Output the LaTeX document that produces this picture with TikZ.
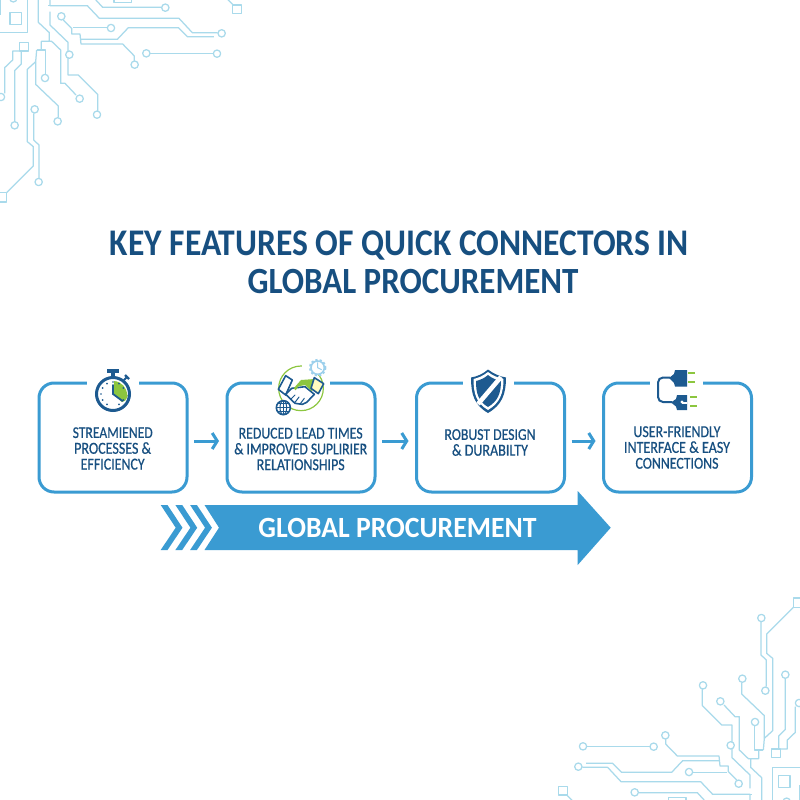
\documentclass[tikz,border=0pt]{standalone}
\usepackage{fontspec}
\usepackage{graphicx}
\usetikzlibrary{arrows.meta,calc}
\setmainfont{Carlito}
\newfontfamily\captionface{Carlito}[FakeBold=0.6]
\definecolor{trace}{HTML}{A9DAEB}
\definecolor{frameblue}{HTML}{3A9BD2}
\definecolor{inkblue}{HTML}{174F80}
\definecolor{iconblue}{HTML}{1D5A90}
\definecolor{leaf}{HTML}{8CC63F}
\definecolor{paleblue}{HTML}{9CD0EC}
% text line fitted to a width in pixels, stretched upward by a fixed factor
\newcommand{\fitw}[2]{\scalebox{1}[\tallness]{\resizebox{#1pt}{!}{#2}}}
\newcommand{\tallness}{1.18}
% One corner of the circuit-board ornament, in units of a third of a pixel
\newcommand{\circuitcorner}{%
  \begin{scope}[scale=1/3]
    \draw[wire] (285,-3) -- (308,22) -- (485,22);
    \draw[wire] (150,-3) -- (150,17) -- (262,17) -- (298,55) -- (537,55) -- (577,98) -- (653,98);
    \draw[wire] (145,17) -- (150,17);
    \draw[wire] (190,60) -- (215,85) -- (215,102) -- (240,102) -- (243,132) -- (368,132) -- (403,168) -- (403,183);
    \draw[wire] (220,83) -- (322,83);
    \draw[wire] (243,118) -- (352,118) -- (385,83) -- (535,83) -- (562,110) -- (642,110);
    \draw[wire] (450,160) -- (640,160);
    \draw[wire] (115,-3) -- (115,67) -- (148,98) -- (148,124) -- (124,124) -- (124,150);
    \draw[wire] (148,124) -- (155,124) -- (182,150) -- (182,250) -- (195,250) -- (228,285);
    \draw[wire] (150,35) -- (150,75) -- (204,127) -- (204,225) -- (235,225) -- (293,283) -- (293,333);
    \draw[wire] (110,150) -- (136,150) -- (136,223);
    \draw[wire] (110,150) -- (107,185) -- (107,253) -- (175,318) -- (175,352);
    \draw[wire] (107,185) -- (82,208) -- (82,425) -- (100,440) -- (100,498) -- (20,578);
    \draw[wire] (101,340) -- (101,420) -- (117,435) -- (117,535);
    \draw[wire] (58,153) -- (38,153) -- (38,180) -- (14,203) -- (14,280);
    \draw[wire] (64,153) -- (64,192) -- (44,212) -- (44,365);
    \draw[wire] (0,97) -- (83,97) -- (83,-3);
    \draw[wire] (0,-3) -- (0,45);
    \draw[wire] (682,-3) -- (700,15);
    \draw[wire] (30,38) rectangle (65,73);
    \draw[wire] (58,127) rectangle (86,153);
    \draw[wire] (-10,578) rectangle (19,606);
    \draw[wire] (698,15) rectangle (725,41);
    \draw[wire] (342,-6) rectangle (395,7);
    \foreach \px/\py in {496/23,665/100,184/49,404/194,333/84,439/160,651/161,208/164,239/296,
                         291/344,135/234,173/364,104/328,116/546,3/291,44/376,40/-5}
      \draw[wire,fill=white] (\px,\py) circle[radius=11];
  \end{scope}}
\tikzset{
  wire/.style={draw=trace,line width=1.25pt,line join=round},
  featurebox/.style={draw=frameblue,line width=3pt,rounded corners=15pt,outer sep=0pt,
    minimum width=148pt,minimum height=109pt,fill=white},
  caption/.style={text=inkblue,align=center,inner sep=0pt,
    font=\captionface\fontsize{12}{15.8}\selectfont},
  flow/.style={draw=frameblue,line width=3pt,shorten <=7pt,shorten >=8pt,
    -{Straight Barb[length=5pt,width=16pt,line width=3pt]}},
  iconline/.style={draw=iconblue,line width=1.6pt,line join=round,line cap=round},
}
\begin{document}
\begin{tikzpicture}[x=1pt,y=-1pt]
  \useasboundingbox (0,0) rectangle (800,800);
  \fill[white] (0,0) rectangle (800,800);

  % circuit ornament in two opposite corners
  \begin{scope}
    \clip (0,0) rectangle (800,800);
    \circuitcorner
    \begin{scope}[rotate around={180:(400,400)}]
      \circuitcorner
    \end{scope}
  \end{scope}

  % heading
  \renewcommand{\tallness}{1.12}
  \node[text=inkblue,inner sep=0pt,font=\bfseries\fontsize{30}{30}\selectfont] (titleA) at (399.5,246)
    {\fitw{579}{KEY FEATURES OF QUICK CONNECTORS IN}};
  \node[text=inkblue,inner sep=0pt,font=\bfseries\fontsize{30}{30}\selectfont] (titleB) at (413,281.5)
    {\fitw{331}{GLOBAL PROCUREMENT}};

  % feature boxes
  \node[featurebox] (box1) at (113,437.5) {};
  \node[featurebox] (box2) at (301,437.5) {};
  \node[featurebox] (box3) at (490.5,437.5) {};
  \node[featurebox] (box4) at (677.5,437.5) {};

  % openings in the top edges for the icons
  \fill[white] (87,378) rectangle (139,388);
  \fill[white] (272,378) rectangle (330,388);
  \fill[white] (463,378) rectangle (514,388);
  \fill[white] (650,378) rectangle (703,388);

  % connectors between boxes
  \draw[flow] ([yshift=-3.5pt]box1.east) -- ([yshift=-3.5pt]box2.west);
  \draw[flow] ([yshift=-3.5pt]box2.east) -- ([yshift=-3.5pt]box3.west);
  \draw[flow] ([yshift=-3.5pt]box3.east) -- ([yshift=-3.5pt]box4.west);

  % box captions
  \renewcommand{\tallness}{1.2}
  \node[caption] (cap1) at (112.7,448.5) {\fitw{80}{STREAMIENED}\\\fitw{77}{PROCESSES \&}\\\fitw{64}{EFFICIENCY}};
  \node[caption] (cap2) at (300.7,449) {\fitw{124}{REDUCED LEAD TIMES}\\\fitw{133}{\& IMPROVED SUPLIRIER}\\\fitw{88}{RELATIONSHIPS}};
  \node[caption] (cap3) at (490,442.5) {\fitw{91}{ROBUST DESIGN}\\\fitw{76}{\& DURABILTY}};
  \node[caption] (cap4) at (677,447.5) {\fitw{87}{USER-FRIENDLY}\\\fitw{106}{INTERFACE \& EASY}\\\fitw{83}{CONNECTIONS}};

  % banner arrow with leading chevrons
  \fill[frameblue] (204.5,505) -- (577.7,505) -- (577.7,491) -- (610.7,527.7) -- (577.7,565)
    -- (577.7,550) -- (204.5,550) -- (219,527.7) -- cycle;
  \foreach \dx in {0,14.7,29.4}
    \fill[frameblue] ([xshift=\dx pt]160.7,505) -- ([xshift=\dx pt]167.5,505) -- ([xshift=\dx pt]182.5,527.7)
      -- ([xshift=\dx pt]167.5,550) -- ([xshift=\dx pt]160.7,550) -- ([xshift=\dx pt]175.7,527.7) -- cycle;
  \renewcommand{\tallness}{1.06}
  \node[text=white,inner sep=0pt,font=\bfseries\fontsize{26}{26}\selectfont] (banner) at (397.5,528)
    {\fitw{278}{GLOBAL PROCUREMENT}};

  % stopwatch
  \begin{scope}[shift={(113,394)}]
    \fill[leaf] (1,-13) arc[start angle=-86,end angle=0,radius=14] -- (15,1) .. controls (13,7) and (11,8) .. (9,8) -- (1,0) -- cycle;
    \draw[draw=iconblue,line width=3pt] (0,0) circle[radius=16.5];
    \fill[iconblue] (-6,-25) rectangle (6,-21);
    \fill[iconblue] (-2,-21) rectangle (2,-17);
    \draw[draw=iconblue,line width=2pt] (11,-14) -- (14,-17);
    \draw[draw=iconblue,line width=2.4pt] (12,-19) -- (16,-15);
    \draw[draw=iconblue,line width=1.8pt,line cap=round] (0,-9) -- (0,0) -- (9.5,7);
    \foreach \a in {30,60,120,150,180,210,240,300,330}
      \fill[iconblue] (\a:12) circle[radius=0.9];
    \fill[iconblue] (0,-12) circle[radius=0.9];
  \end{scope}

  % handshake with globe and clock
  \begin{scope}[shift={(265,355)},scale=1/3]
    \draw[leaf,line width=1.2pt] (108,100) circle[radius=67];
    \fill[white] (112,30) rectangle (178,60);
    \draw[paleblue,line width=1.6pt,fill=white] (158,38) circle[radius=20];
    \draw[paleblue,line width=2.2pt,dotted] (158,38) circle[radius=23];
    \draw[paleblue,line width=1pt] (158,22) -- (158,38) -- (170,44);
    \draw[iconline,fill=white] (40,103) -- (62,62) -- (82,75) -- (62,120) -- cycle;
    \draw[iconline,fill=white] (62,118) -- (80,100) -- (120,95) -- (148,118) -- (125,142) -- (112,148) -- (90,145) -- cycle;
    \draw[iconline,line width=1pt] (78,132) -- (90,120) (90,142) -- (102,126) (106,146) -- (118,130);
    \fill[leaf] (86,100) -- (108,75) -- (150,72) -- (166,85) -- (140,108) -- (120,90) -- (100,94) -- (92,106) -- cycle;
    \draw[iconline,fill=yellow!25] (148,68) -- (176,86) -- (160,116) -- (138,100) -- cycle;
    \draw[iconline,fill=white] (55,158) circle[radius=21];
    \draw[iconline,line width=1pt] (34,158) -- (76,158) (38,146) -- (72,146) (38,170) -- (72,170) (55,137) -- (55,179);
    \draw[iconline,line width=1pt] (55,158) ellipse[x radius=10,y radius=21];
  \end{scope}

  % shield
  \fill[iconblue] (488,369.5) .. controls (494,374) and (500,376.5) .. (506,377.5)
    .. controls (506,394) and (502,405) .. (488,413) .. controls (474,405) and (471,394) .. (471,377.5)
    .. controls (477,376.5) and (483,374) .. cycle;
  \fill[white] (488,372) .. controls (493,376) and (499,378) .. (503.5,379)
    .. controls (503.5,393) and (500,403) .. (488,410) .. controls (476,403) and (473.5,393) .. (473.5,379)
    .. controls (478,378) and (483,376) .. cycle;
  \fill[iconblue] (488,375) .. controls (492,378.5) and (497,380) .. (501,381)
    .. controls (501,393) and (498,401) .. (488,407) .. controls (478,401) and (476,393) .. (476,381)
    .. controls (480,380) and (484,378.5) .. cycle;
  \draw[white,line width=4.5pt] (478,404) -- (501,377);

  % pair of plugs
  \draw[draw=iconblue,line width=2pt,rounded corners=5pt] (670,377.5) -- (658,377.5) -- (658,402) -- (672,402);
  \fill[iconblue] (669,378) -- (674,374) -- (675,370) -- (687,370) -- (687,386.5) -- (675,386.5) -- (674,383) -- cycle;
  \fill[iconblue] (671,402.5) -- (676,399) -- (677,395) -- (687,395) -- (687,410) -- (677,410) -- (676,406.5) -- cycle;
  \fill[white] (682,402) circle[radius=1.6];
  \fill[white] (682,402) rectangle (687,403.5);
  \draw[leaf,line width=2.2pt] (688,372.7) -- (695,372.7) (688,382) -- (695,382) (690,397) -- (697,397) (690,406) -- (697,406);
\end{tikzpicture}
\end{document}
